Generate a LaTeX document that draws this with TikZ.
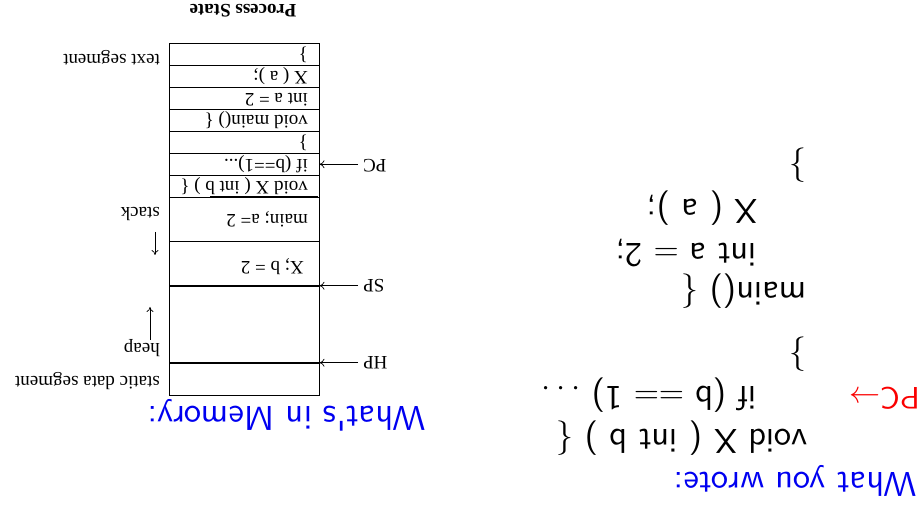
\RequirePackage{fix-cm}
\documentclass[tikz,border=0pt]{standalone}
\usepackage{fontspec}
\usetikzlibrary{arrows.meta}
\newfontfamily\tms{Liberation Serif}
\newfontfamily\csans{lmsans10-regular.otf}
\definecolor{tblue}{RGB}{0,0,240}
\definecolor{tred}{RGB}{250,0,0}
\begin{document}
\begin{tikzpicture}[x=1pt,y=1pt,
  mem/.style={font=\tms\fontsize{19}{21}\selectfont, anchor=base west, inner sep=0pt},
  memb/.style={font=\tms\bfseries\fontsize{19}{21}\selectfont, anchor=base, inner sep=0pt},
  lbl/.style={font=\tms\fontsize{19}{21}\selectfont, anchor=base west, inner sep=0pt},
  ptrl/.style={font=\tms\fontsize{19}{21}\selectfont, anchor=base east, inner sep=0pt},
  code/.style={font=\csans\fontsize{34.5}{40}\selectfont, anchor=base west, inner sep=0pt},
  ttl/.style={code, text=tblue},
  boxl/.style={line width=0.9pt},
  heavy/.style={line width=2pt},
  ptr/.style={line width=0.7pt, -{To[length=5pt,width=8pt]}},
  growarrow/.style={line width=0.7pt, -{To[length=5pt,width=7pt]}}]
\useasboundingbox (0,0) rectangle (924,506);
\begin{scope}[rotate around={180:(462,253)}, transform shape]
  % ---------- left: source code ----------
  \node[ttl] (wrote) at (7,473) {What you wrote:};
  \node[code] (c1) at (116,430) {void X ( int b ) $\{$};
  \node[code, font=\csans\fontsize{31}{36}\selectfont, text=tred] (pcred) at (4,388) {PC$\rightarrow$};
  \node[code] (c2) at (167,387) {if (b $==$ 1) $\ldots$};
  \node[code] (c3) at (117,346) {$\}$};
  \node[code] (c4) at (117,283) {main() $\{$};
  \node[code] (c5) at (167,244) {int a $=$ 2;};
  \node[code] (c6) at (166,200) {X ( a );};
  \node[code] (c7) at (117,157) {$\}$};
  % ---------- right: memory ----------
  \node[ttl] (mem) at (498,407) {What's in Memory:};
  \draw[boxl] (605,43.3) rectangle (755,395.3);
  \foreach \yy in {65.3,87.3,109.3,131.3,153.3,175.3,197.3,241.5}
    \draw[boxl] (605,\yy) -- (755,\yy);
  \draw[heavy] (606,197.3) -- (714,197.3);
  \draw[heavy] (605,285.7) -- (755,285.7);
  \draw[heavy] (605,362.7) -- (755,362.7);
  \node[mem] (r1) at (616,181.5) {void X ( int b ) \{};
  \node[mem] (r2) at (616,159.5) {if (b==1)...};
  \node[mem] (r3) at (616,137.5) {\}};
  \node[mem] (r4) at (616,115.5) {void main() \{};
  \node[mem] (r5) at (616,93.5) {int a = 2};
  \node[mem] (r6) at (616,71.5) {X ( a );};
  \node[mem] (r7) at (616,49.5) {\}};
  \node[mem] (s1) at (616,215) {main; a= 2};
  \node[mem] (s2) at (620,261.7) {X; b = 2};
  % segment labels
  \node[lbl] (ltext) at (764,54.5) {text segment};
  \node[lbl] (lstack) at (764,208) {stack};
  \node[lbl] (lheap) at (764,344) {heap};
  \node[lbl] (lstatic) at (764,376.5) {static data segment};
  \coordinate (st0) at (769,232);
  \coordinate (st1) at (769,255);
  \draw[growarrow] (st0) -- (st1);
  \coordinate (hp0) at (774,340);
  \coordinate (hp1) at (774,307);
  \draw[growarrow] (hp0) -- (hp1);
  % pointers
  \node[ptrl] (pc) at (561,160) {PC};
  \node[ptrl] (sp) at (561,280) {SP};
  \node[ptrl] (hp) at (561,356.7) {HP};
  \coordinate (pcA) at (566,164.3);
  \coordinate (pcB) at (604.5,164.3);
  \coordinate (spA) at (566,285.7);
  \coordinate (spB) at (604.5,285.7);
  \coordinate (hpA) at (566,362.7);
  \coordinate (hpB) at (604.5,362.7);
  \draw[ptr] (pcA) -- (pcB);
  \draw[ptr] (spA) -- (spB);
  \draw[ptr] (hpA) -- (hpB);
  % title
  \node[memb] (ps) at (681,5) {Process State};
\end{scope}
\end{tikzpicture}
\end{document}
